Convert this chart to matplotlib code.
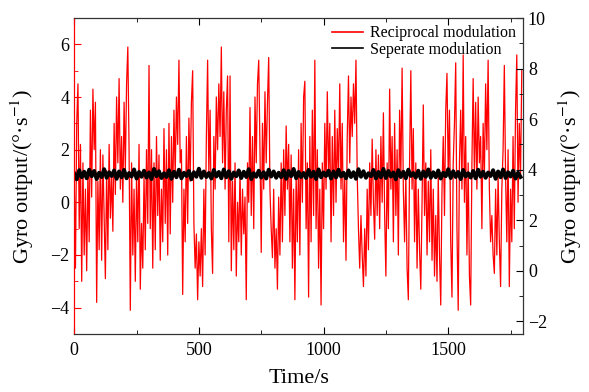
import matplotlib.pyplot as plt
import matplotlib.ticker as mticker
import numpy as np

plt.rcParams['font.family'] = ['Liberation Serif', 'DejaVu Serif']
plt.rcParams['mathtext.fontset'] = 'stix'

# Reciprocal modulation, read every 5 s (left axis, deg/s)
red_vals = [
    # 0 - 295 s
    1.0, -2.5, 3.0, 4.5, -1.0, 2.2, -3.0, 1.5, -2.0, 0.5, -2.6, 1.2, -1.5, 3.5, 0.2, 4.3, 2.0, 3.8, -3.8, 0.8,
    -1.8, 2.0, -2.2, 1.8, -0.5, -2.9, 1.2, -1.8, 2.2, -0.6, 1.0, -1.1, 3.0, 0.3, 4.0, 1.5, 4.7, 0.5, 2.5, 0.0,
    3.8, 1.2, 4.5, 5.9, 2.0, -4.1, 1.5, -2.0, 0.5, -3.0, 1.0, -1.5, 2.2, -3.3, -0.8, -2.5, 1.0, -1.8, 2.0, -0.8,
    # 300 - 595 s
    5.2, -1.0, 2.0, -2.5, 1.5, -1.8, 2.5, -0.5, 1.8, -2.2, 0.5, -1.5, 2.8, -0.8, 2.0, -2.0, 3.0, -1.2, 2.5, 0.0,
    3.5, 1.0, 4.0, 2.2, 5.4, 1.5, 2.0, -3.5, 0.5, -1.5, 2.5, -0.8, 3.2, 0.8, 3.8, 5.0, -0.8, -2.5, -1.2, -3.7,
    -1.5, -2.8, -1.0, -3.2, 0.5, -2.0, 2.5, 5.4, 1.0, 3.5, -1.0, -2.7, 2.5, 0.5, 4.0, 2.0, 4.5, 2.5, 5.9, 1.5,
    # 600 - 895 s
    4.2, 0.5, 3.5, 4.8, -1.5, 4.8, -2.6, 0.8, -1.8, 1.5, -2.8, 0.0, -1.5, 1.2, -2.0, 0.5, -1.2, 0.2, -3.7, 1.5,
    0.0, 3.6, -0.5, 2.5, -1.0, 4.0, 1.5, 4.5, 5.4, 2.0, -1.9, 3.0, 0.5, 4.2, 1.5, 3.8, 5.5, 0.5, -1.0, -2.1,
    0.5, -2.5, -1.0, -3.3, 0.2, -2.0, 1.5, -1.5, 2.0, -0.5, 2.9, 0.5, 2.2, -1.5, 1.8, -2.5, 0.5, -3.7, 1.0, -1.5,
    # 900 - 1195 s
    2.0, -2.0, 3.0, 0.0, 4.0, 4.6, -1.0, 1.5, -3.6, 2.5, -1.5, 3.5, -0.5, 5.4, -1.0, 2.0, -2.5, 0.5, -3.9, 1.5,
    -1.0, 3.0, 0.5, 4.2, 1.0, 3.0, -1.5, 2.5, -0.5, 3.5, 0.0, 2.8, 1.0, 4.5, 0.5, 3.0, -1.5, 1.0, -2.2, 2.5,
    4.8, 1.5, 4.0, 2.5, 4.5, 3.0, 5.4, 1.0, -1.0, -2.5, -0.5, -2.0, -3.2, -1.0, -2.8, 0.5, -1.8, 1.5, -0.5, 2.4,
    # 1200 - 1495 s
    0.0, -1.4, 2.0, -0.5, 1.8, -1.0, 2.5, 0.0, 3.4, -0.5, -2.8, 1.5, -1.0, 4.3, 0.5, 2.5, -1.5, 3.0, -0.5, 2.0,
    -2.0, 3.5, 1.0, 5.1, 0.5, -1.5, 1.0, -2.5, -3.7, 1.5, 5.0, 0.5, 2.8, -1.5, 1.5, -2.5, 0.5, -1.8, -3.3, 0.0,
    3.7, -0.5, 1.5, -2.0, 0.8, -1.5, 2.0, -2.2, 0.5, -2.8, -0.5, -3.0, 1.0, -2.0, -3.9, 0.5, 2.5, -0.5, 3.5, 4.9,
    # 1500 - 1795 s
    1.0, 3.5, -1.5, -3.6, 1.5, 3.0, 5.3, -1.0, -4.1, 1.5, 3.5, 0.5, 5.6, 0.0, 2.5, -2.0, 1.5, -2.8, -3.9, 1.5,
    4.7, 1.0, 3.8, 0.5, 4.0, 1.5, 2.5, -1.0, 3.0, 1.0, 4.5, 2.0, 5.4, 0.5, -1.5, -0.5, -2.0, -2.7, 0.5, -2.0,
    1.0, -1.5, -3.2, 0.5, 2.0, 5.2, 1.0, -1.5, 2.0, -3.2, 0.5, -1.5, 2.5, -1.0, 3.5, 5.6, 0.0, 3.0, 1.0, 5.0,
]
red_time = np.arange(len(red_vals)) * 5

# Seperate modulation, read every 10 s (right axis, deg/s)
black_vals = [
    3.85, 3.62, 3.98, 3.70, 3.92, 3.66, 4.00, 3.74, 3.95, 3.63, 3.88, 3.71, 4.02, 3.68, 3.90, 3.75, 3.97, 3.64,
    3.93, 3.70, 3.99, 3.66, 3.87, 3.73, 4.01, 3.65, 3.91, 3.72, 3.96, 3.69, 3.89, 3.63, 4.03, 3.74, 3.94, 3.67,
    3.86, 3.71, 3.98, 3.64, 3.92, 3.70, 4.00, 3.66, 3.88, 3.75, 3.95, 3.62, 3.90, 3.72, 4.04, 3.68, 3.93, 3.71,
    3.87, 3.65, 3.99, 3.73, 3.91, 3.66, 4.01, 3.70, 3.94, 3.64, 3.89, 3.74, 3.97, 3.67, 3.92, 3.71, 4.02, 3.63,
    3.86, 3.72, 3.96, 3.69, 3.90, 3.65, 4.00, 3.73, 3.93, 3.68, 3.88, 3.70, 3.98, 3.64, 3.95, 3.74, 4.03, 3.66,
    3.91, 3.71, 3.87, 3.67, 3.99, 3.72, 3.92, 3.63, 4.01, 3.70, 3.89, 3.75, 3.96, 3.65, 3.93, 3.69, 4.00, 3.73,
    3.88, 3.66, 3.97, 3.71, 3.90, 3.64, 4.02, 3.72, 3.94, 3.68, 3.86, 3.74, 3.99, 3.65, 3.91, 3.70, 4.03, 3.67,
    3.95, 3.73, 3.89, 3.62, 3.98, 3.71, 3.92, 3.66, 4.00, 3.75, 3.87, 3.69, 3.96, 3.64, 3.93, 3.72, 4.01, 3.68,
    3.90, 3.70, 3.97, 3.65, 3.88, 3.74, 4.02, 3.67, 3.94, 3.71, 3.91, 3.63, 3.99, 3.73, 3.86, 3.69, 3.95, 3.66,
    4.00, 3.72, 3.92, 3.68, 3.89, 3.75, 3.98, 3.64, 3.93, 3.70, 4.01, 3.67, 3.90, 3.73, 3.96, 3.65, 3.88, 3.71,
]
black_time = np.arange(len(black_vals)) * 10

fig = plt.figure(figsize=(5.89, 3.92), dpi=100)
ax = fig.add_axes([0.126, 0.148, 0.762, 0.806])
ax2 = ax.twinx()

l1, = ax.plot(red_time, red_vals, color='red', lw=0.9)
l2, = ax2.plot(black_time, black_vals, color='black', lw=2.8)

ax.set_xlim(0, 1800)
ax.set_ylim(-5, 7)
ax2.set_ylim(-2.5, 10)

ax.xaxis.set_major_locator(mticker.MultipleLocator(500))
ax.xaxis.set_minor_locator(mticker.MultipleLocator(250))
ax.yaxis.set_major_locator(mticker.MultipleLocator(2))
ax.yaxis.set_minor_locator(mticker.MultipleLocator(1))
ax2.yaxis.set_major_locator(mticker.MultipleLocator(2))
ax2.yaxis.set_minor_locator(mticker.MultipleLocator(1))

ax.tick_params(axis='x', which='both', direction='in', top=True, labelsize=13, pad=6)
ax.tick_params(axis='x', which='major', length=5)
ax.tick_params(axis='x', which='minor', length=3)
ax.tick_params(axis='y', which='both', direction='in', colors='red', labelcolor='black', labelsize=13)
ax.tick_params(axis='y', which='major', length=5)
ax.tick_params(axis='y', which='minor', length=3)
ax2.tick_params(axis='y', which='both', direction='in', labelsize=13)
ax2.tick_params(axis='y', which='major', length=5)
ax2.tick_params(axis='y', which='minor', length=3)

ax.spines['left'].set_color('red')
ax2.spines['left'].set_color('red')
for sp in ['bottom', 'top', 'right']:
    ax2.spines[sp].set_color('#333333')

ax.set_xlabel('Time/s', fontsize=16, labelpad=7)
ax.set_ylabel('Gyro output/(°·s$^{-1}$)', fontsize=16, labelpad=10)
ax2.set_ylabel('Gyro output/(°·s$^{-1}$)', fontsize=16, labelpad=7)

ax2.legend([l1, l2], ['Reciprocal modulation', 'Seperate modulation'], loc='upper right',
           frameon=False, fontsize=11.5, handlelength=2.0, borderaxespad=0.05,
           labelspacing=0.05, handletextpad=0.4)
for line in ax2.get_legend().get_lines():
    line.set_linewidth(1.2)

fig.savefig('out.png', dpi=100)
